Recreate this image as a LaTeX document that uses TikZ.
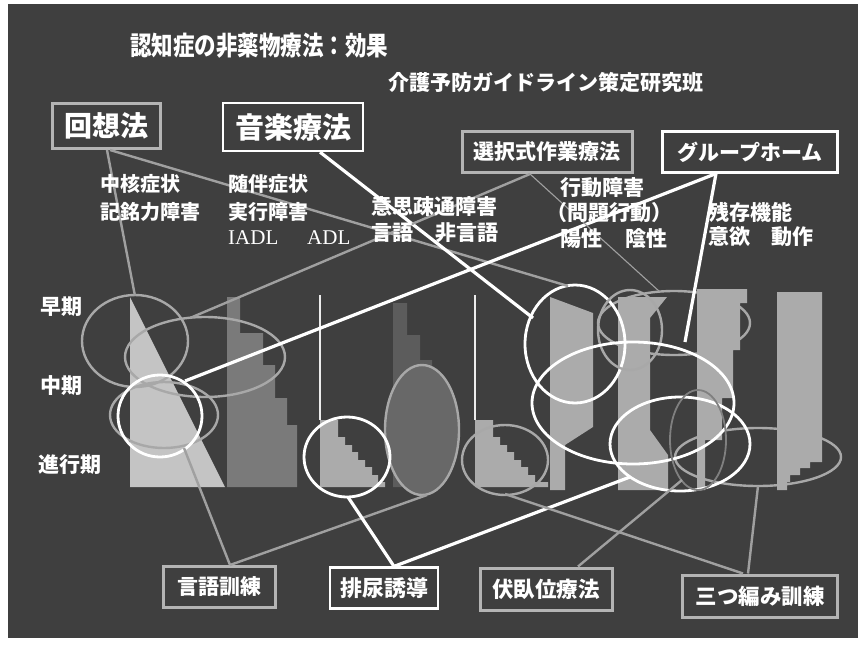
\documentclass[tikz,border=0pt]{standalone}
\usepackage{fontspec}
\setmainfont{Noto Sans CJK JP}
\newfontfamily\tms{Liberation Serif}
\usetikzlibrary{calc}
\definecolor{bg}{HTML}{3F3F3F}
\definecolor{boxg}{HTML}{B4B4B4}
\definecolor{ellg}{HTML}{A8A8A8}
\definecolor{lineg}{HTML}{A0A0A0}
\definecolor{barL}{HTML}{C4C4C4}
\definecolor{barM}{HTML}{ABABAB}
\definecolor{barD}{HTML}{7A7A7A}
\definecolor{barDD}{HTML}{5C5C5C}
\begin{document}
\begin{tikzpicture}[x=1pt,y=-1pt,
  lbl/.style={text=white, inner sep=0pt, anchor=west, font=\bfseries\fontsize{20}{22}\selectfont},
  boxw/.style={draw=white, line width=2.2pt, text=white, inner sep=0pt},
  boxgr/.style={draw=boxg, line width=3pt, text=white, inner sep=0pt},
  ellw/.style={draw=white, line width=2.8pt},
  ellgr/.style={draw=ellg, line width=2.4pt},
  lnw/.style={draw=white, line width=3.2pt},
  lng/.style={draw=lineg, line width=2.4pt},
  lnthin/.style={draw=lineg, line width=1.1pt}]
\useasboundingbox (0,0) rectangle (858,645);
\fill[white] (0,0) rectangle (858,645);
\fill[bg] (8,4) rectangle (858,638);

% ellipses behind the bars
\draw[ellgr] (674,323) ellipse [x radius=76, y radius=32];
\draw[ellgr] (758,457) ellipse [x radius=83, y radius=29];

% bars
\fill[barL] (130,297) -- (225,487) -- (130,487) -- cycle;
\fill[barD] (227,297) -- (240,297) -- (240,333) -- (263,333) -- (263,365) -- (275,365)
  -- (275,398) -- (287,398) -- (287,425) -- (297,425) -- (297,487) -- (227,487) -- cycle;
\fill[barM] (320,420) -- (338,420) -- (338,437) -- (345,437) -- (345,445) -- (352,445)
  -- (352,452) -- (358,452) -- (358,460) -- (365,460) -- (365,467) -- (372,467)
  -- (372,475) -- (378,475) -- (378,482) -- (385,482) -- (385,487) -- (320,487) -- cycle;
\fill[barDD] (393,303) -- (407,303) -- (407,335) -- (420,335) -- (420,360) -- (432,360)
  -- (432,487) -- (393,487) -- cycle;
\fill[barD!85!black, draw=ellg, line width=2.4pt] (422,430) ellipse [x radius=37, y radius=65];
\fill[barM] (475,420) -- (493,420) -- (493,437) -- (500,437) -- (500,445) -- (507,445)
  -- (507,452) -- (514,452) -- (514,460) -- (521,460) -- (521,467) -- (528,467)
  -- (528,475) -- (535,475) -- (535,482) -- (548,482) -- (548,487) -- (475,487) -- cycle;
\fill[barM] (550,297) -- (593,313) -- (593,427) -- (565,445) -- (565,490) -- (550,490) -- cycle;
\fill[barM] (618,297) -- (667,297) -- (650,318) -- (650,430) -- (668,455) -- (668,490)
  -- (618,490) -- cycle;
\fill[barM] (697,289) -- (747,289) -- (747,303) -- (740,303) -- (740,350) -- (733,350)
  -- (733,398) -- (722,398) -- (722,440) -- (705,440) -- (705,490) -- (697,490) -- cycle;
\fill[barM] (777,292) -- (822,292) -- (822,462) -- (810,462) -- (810,468) -- (800,468)
  -- (800,475) -- (790,475) -- (790,482) -- (787,482) -- (787,490) -- (777,490) -- cycle;
\draw[white!85!gray, line width=2.4pt] (320,295) -- (320,420);
\draw[white!85!gray, line width=2.4pt] (475,295) -- (475,420);

% ellipses in front
\draw[ellgr] (135,341) ellipse [x radius=53, y radius=46];
\draw[ellgr] (205,357) ellipse [x radius=80, y radius=40];
\draw[ellgr] (164,415) ellipse [x radius=54, y radius=33];
\draw[ellw] (160,416) ellipse [x radius=42, y radius=41];
\draw[ellw] (347,457) ellipse [x radius=43, y radius=40];
\draw[ellgr] (505,460) ellipse [x radius=43, y radius=35];
\draw[ellw] (575,344) ellipse [x radius=50, y radius=59];
\draw[ellgr] (630,330) ellipse [x radius=32, y radius=40];
\draw[ellw] (633,403) ellipse [x radius=101, y radius=61];
\draw[ellw] (680,444) ellipse [x radius=70, y radius=47];
\draw[draw=gray, line width=1.8pt] (698,440) ellipse [x radius=28, y radius=50];

% connector end points
\coordinate (e1t) at (135,296);
\coordinate (e8t) at (568,286);
\coordinate (e8l) at (533,318);
\coordinate (e3r) at (185,381);
\coordinate (e10t) at (685,342);
\coordinate (e2t) at (190,318);
\coordinate (ewt) at (660,292);
\coordinate (e4b) at (184,448);
\coordinate (e6b) at (427,495);
\coordinate (e5b) at (348,497);
\coordinate (e11bl) at (630,477);
\coordinate (e12bl) at (682,480);
\coordinate (e13b) at (758,486);
\coordinate (e7b) at (505,494);

% boxes
\node[boxgr, minimum width=108, minimum height=45, font=\bfseries\fontsize{28}{30}\selectfont] (kaiso) at (106,126) {回想法};
\node[boxw, minimum width=140, minimum height=48, font=\bfseries\fontsize{29}{31}\selectfont] (ongaku) at (293,127) {音楽療法};
\node[boxgr, minimum width=170, minimum height=41, font=\bfseries\fontsize{21}{23}\selectfont] (sentaku) at (547,152) {選択式作業療法};
\node[boxw, minimum width=175, minimum height=41, font=\bfseries\fontsize{21}{23}\selectfont] (gh) at (750,152) {グループホーム};
\node[boxgr, minimum width=112, minimum height=41, font=\bfseries\fontsize{21}{23}\selectfont] (gengo) at (219,587) {言語訓練};
\node[boxw, minimum width=108, minimum height=41, font=\bfseries\fontsize{22}{24}\selectfont] (hainyo) at (384,588) {排尿誘導};
\node[boxgr, minimum width=132, minimum height=42, font=\bfseries\fontsize{21.5}{24}\selectfont] (fukuga) at (546,589) {伏臥位療法};
\node[boxgr, minimum width=155, minimum height=42, font=\bfseries\fontsize{21.5}{24}\selectfont] (mitsu) at (760,596) {三つ編み訓練};

% connectors
\draw[lng] ($(kaiso.south)+(1,0)$) -- (e1t);
\draw[lng] ($(kaiso.south)+(4,0)$) -- (e8t);
\draw[lnw] ($(ongaku.south)+(27,0)$) -- (e8l);
\draw[lnw] ($(gh.south)+(-34,0)$) -- (e3r);
\draw[lnw] ($(gh.south)+(-34,0)$) -- (e10t);
\draw[lng] ($(sentaku.south)+(-17,0)$) -- (e2t);
\draw[lnthin] ($(sentaku.south)+(-17,0)$) -- (ewt);
\draw[lng] ($(gengo.north)+(11,0)$) -- (e4b);
\draw[lng] ($(gengo.north)+(11,0)$) -- (e6b);
\draw[lnw] ($(hainyo.north)+(10,0)$) -- (e5b);
\draw[lnw] ($(hainyo.north)+(10,0)$) -- (e11bl);
\draw[lng] ($(fukuga.north)+(32,0)$) -- (e12bl);
\draw[lng] ($(mitsu.north)+(-12,0)$) -- (e13b);
\draw[lng] ($(mitsu.north)+(-17,0)$) -- (e7b);

% titles
\node[lbl, font=\bfseries\fontsize{21.5}{24}\selectfont] (title) at (130,46) {\scalebox{1}[1.22]{認知症の非薬物療法：効果}};
\node[lbl, font=\bfseries\fontsize{21}{23}\selectfont] (sub) at (388,83) {介護予防ガイドライン策定研究班};

% labels
\node[lbl] (l1) at (100,184) {中核症状};
\node[lbl] (l2) at (100,212) {記銘力障害};
\node[lbl] (l3) at (228,184) {随伴症状};
\node[lbl] (l4) at (228,212) {実行障害};
\node[lbl, font=\tms\fontsize{21}{23}\selectfont] (l5) at (228,238) {IADL};
\node[lbl, font=\tms\fontsize{21}{23}\selectfont] (l6) at (307,238) {ADL};
\node[lbl, font=\bfseries\fontsize{21}{23}\selectfont] (l7) at (371,207) {意思疎通障害};
\node[lbl, font=\bfseries\fontsize{21}{23}\selectfont] (l8) at (371,233) {言語};
\node[lbl, font=\bfseries\fontsize{21}{23}\selectfont] (l9) at (435,233) {非言語};
\node[lbl, font=\bfseries\fontsize{21}{23}\selectfont] (l10) at (560,188) {行動障害};
\node[lbl, font=\bfseries\fontsize{21}{23}\selectfont] (l11) at (546,213) {（問題行動）};
\node[lbl, font=\bfseries\fontsize{21}{23}\selectfont] (l12) at (560,239) {陽性};
\node[lbl, font=\bfseries\fontsize{21}{23}\selectfont] (l13) at (625,239) {陰性};
\node[lbl, font=\bfseries\fontsize{21}{23}\selectfont] (l14) at (708,212) {残存機能};
\node[lbl, font=\bfseries\fontsize{21}{23}\selectfont] (l15) at (708,237) {意欲};
\node[lbl, font=\bfseries\fontsize{21}{23}\selectfont] (l16) at (771,237) {動作};
\node[lbl, font=\bfseries\fontsize{21}{23}\selectfont] (s1) at (40,307) {早期};
\node[lbl, font=\bfseries\fontsize{21}{23}\selectfont] (s2) at (40,386) {中期};
\node[lbl, font=\bfseries\fontsize{21}{23}\selectfont] (s3) at (38,465) {進行期};
\end{tikzpicture}
\end{document}
